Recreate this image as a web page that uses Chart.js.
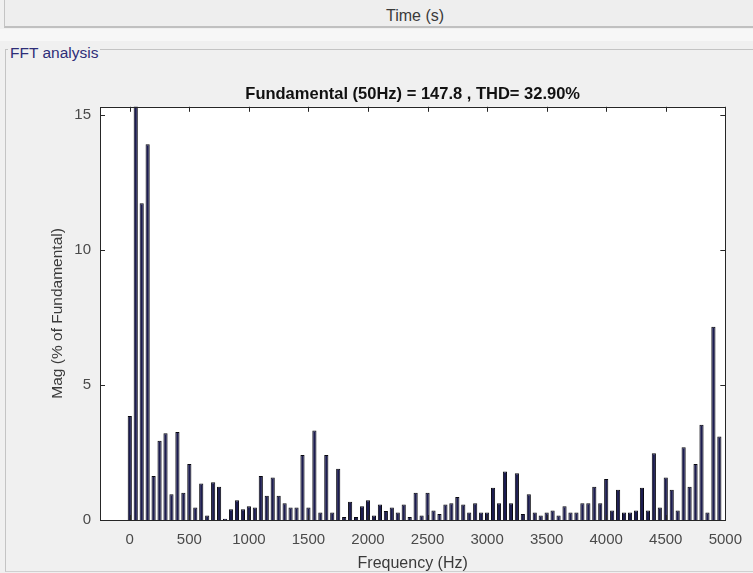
<!DOCTYPE html>
<html>
<head>
<meta charset="utf-8">
<script src="https://cdn.jsdelivr.net/npm/chart.js@4.4.1/dist/chart.umd.min.js"></script>
<style>
    html, body {
        margin: 0;
        padding: 0;
        width: 753px;
        height: 573px;
        overflow: hidden;
        background: #f0f0f0;
        font-family: "Liberation Sans", Arial, sans-serif;
    }
    .time-strip {
        position: absolute;
        left: 4px;
        top: 0;
        width: 749px;
        height: 26px;
        background: #eeeeee;
        border-left: 1px solid #c4c4c4;
        border-bottom: 2px solid #c0c0c0;
    }
    .time-label {
        position: absolute;
        left: 415px;
        top: 16px;
        transform: translate(-50%, -50%);
        font-size: 16px;
        color: #3a3a3a;
        white-space: nowrap;
    }
    .light-band {
        position: absolute;
        left: 0;
        top: 29px;
        width: 753px;
        height: 12px;
        background: #f7f7f7;
    }
    .group-box {
        position: absolute;
        left: 5px;
        top: 49px;
        width: 748px;
        height: 521px;
        border-top: 1px solid #c4c4c4;
        border-left: 1px solid #c4c4c4;
        border-bottom: 1px solid #d0d0d0;
    }
    .group-title {
        position: absolute;
        left: 8px;
        top: 53px;
        transform: translateY(-50%);
        padding: 0 2px;
        background: #f0f0f0;
        font-size: 15.5px;
        color: #2e2e78;
        white-space: nowrap;
    }
    #chartWrap {
        position: absolute;
        left: 0;
        top: 0;
        width: 753px;
        height: 573px;
    }
</style>
</head>
<body>
<div class="time-strip"></div>
<div class="time-label">Time (s)</div>
<div class="light-band"></div>
<div class="group-box"></div>
<div class="group-title">FFT analysis</div>
<div id="chartWrap"><canvas id="fftChart" width="753" height="573"></canvas></div>

<script>
// harmonic frequencies (Hz), one bar every 50 Hz
const frequencies = [
    0, 50, 100, 150, 200, 250, 300, 350, 400, 450,
    500, 550, 600, 650, 700, 750, 800, 850, 900, 950,
    1000, 1050, 1100, 1150, 1200, 1250, 1300, 1350, 1400, 1450,
    1500, 1550, 1600, 1650, 1700, 1750, 1800, 1850, 1900, 1950,
    2000, 2050, 2100, 2150, 2200, 2250, 2300, 2350, 2400, 2450,
    2500, 2550, 2600, 2650, 2700, 2750, 2800, 2850, 2900, 2950,
    3000, 3050, 3100, 3150, 3200, 3250, 3300, 3350, 3400, 3450,
    3500, 3550, 3600, 3650, 3700, 3750, 3800, 3850, 3900, 3950,
    4000, 4050, 4100, 4150, 4200, 4250, 4300, 4350, 4400, 4450,
    4500, 4550, 4600, 4650, 4700, 4750, 4800, 4850, 4900, 4950
];

// magnitude in % of fundamental (the 50 Hz bar is the fundamental itself)
const magnitudes = [
    3.85, 100, 11.73, 13.91, 1.63, 2.93, 3.21, 0.95, 3.26, 1.01,
    2.07, 0.46, 1.35, 0.17, 1.40, 1.23, 0.05, 0.40, 0.73, 0.40,
    0.51, 0.46, 1.63, 0.90, 1.57, 0.90, 0.62, 0.46, 0.46, 2.41,
    0.46, 3.31, 0.28, 2.41, 0.28, 1.90, 0.11, 0.68, 0.11, 0.51,
    0.73, 0.17, 0.57, 0.33, 0.46, 0.28, 0.57, 0.11, 1.01, 0.17,
    1.01, 0.35, 0.22, 0.57, 0.62, 0.85, 0.57, 0.28, 0.62, 0.28,
    0.28, 1.19, 0.62, 1.80, 0.62, 1.73, 0.22, 0.95, 0.28, 0.17,
    0.28, 0.35, 0.17, 0.51, 0.28, 0.28, 0.62, 0.62, 1.23, 0.62,
    1.52, 0.35, 1.12, 0.28, 0.28, 0.35, 1.19, 0.35, 2.47, 0.46,
    1.57, 1.12, 0.35, 2.69, 1.23, 2.07, 3.53, 0.28, 7.16, 3.09
];

const xTickValues = [0, 500, 1000, 1500, 2000, 2500, 3000, 3500, 4000, 4500, 5000];
const yTickValues = [0, 5, 10, 15];

const chartTitle = "Fundamental (50Hz) = 147.8 , THD= 32.90%";
const xAxisTitle = "Frequency (Hz)";
const yAxisTitle = "Mag (% of Fundamental)";

const FONT = "'Liberation Sans', Arial, sans-serif";

// MATLAB style axes: white plot box, full frame, ticks pointing inward
const matlabAxes = {
    id: "matlabAxes",
    beforeDraw(chart) {
        const { ctx, chartArea } = chart;
        ctx.save();
        ctx.fillStyle = "#ffffff";
        ctx.fillRect(chartArea.left, chartArea.top, chartArea.width, chartArea.height);
        ctx.restore();
    },
    afterDraw(chart) {
        const { ctx, chartArea, scales } = chart;
        const { left, right, top, bottom } = chartArea;
        const tickLen = 5;

        ctx.save();
        ctx.strokeStyle = "#262626";
        ctx.lineWidth = 1;

        ctx.beginPath();
        xTickValues.forEach(v => {
            const px = Math.round(scales.x.getPixelForValue(v)) + 0.5;
            ctx.moveTo(px, bottom);
            ctx.lineTo(px, bottom - tickLen);
            ctx.moveTo(px, top);
            ctx.lineTo(px, top + tickLen);
        });
        yTickValues.forEach(v => {
            const py = Math.round(scales.y.getPixelForValue(v)) + 0.5;
            ctx.moveTo(left, py);
            ctx.lineTo(left + tickLen, py);
            ctx.moveTo(right, py);
            ctx.lineTo(right - tickLen, py);
        });
        ctx.stroke();

        ctx.strokeRect(Math.round(left) + 0.5, Math.round(top) + 0.5,
            Math.round(right - left), Math.round(bottom - top));
        ctx.restore();
    }
};

const canvas = document.getElementById("fftChart");

new Chart(canvas, {
    type: "bar",
    data: {
        datasets: [{
            label: "Mag",
            data: frequencies.map((f, i) => ({ x: f, y: magnitudes[i] })),
            backgroundColor: "#1c1c50",
            borderColor: "#08080f",
            borderWidth: 1,
            barPercentage: 0.7,
            categoryPercentage: 1,
            clip: 0
        }]
    },
    options: {
        responsive: false,
        animation: false,
        events: [],
        layout: {
            padding: { left: 40, right: 24, top: 85, bottom: 0 }
        },
        plugins: {
            legend: { display: false },
            tooltip: { enabled: false },
            title: {
                display: true,
                text: chartTitle,
                fullSize: false,
                color: "#111111",
                font: { family: FONT, size: 16.5, weight: "bold", lineHeight: 1.2 },
                padding: { top: 0, bottom: 2 }
            }
        },
        scales: {
            x: {
                type: "linear",
                min: -250,
                max: 5000,
                offset: false,
                grid: { display: false, drawTicks: false, offset: false },
                border: { display: false },
                ticks: {
                    color: "#4a4a4a",
                    padding: 11,
                    maxRotation: 0,
                    autoSkip: false,
                    font: { family: FONT, size: 15 },
                    callback: value => String(value)
                },
                afterBuildTicks: scale => {
                    scale.ticks = xTickValues.map(v => ({ value: v }));
                },
                afterFit: scale => {
                    scale.height = 53;
                },
                title: {
                    display: true,
                    text: xAxisTitle,
                    color: "#3a3a3a",
                    font: { family: FONT, size: 16 },
                    padding: { top: 0, bottom: 0 }
                }
            },
            y: {
                min: 0,
                max: 15.3,
                grid: { display: false, drawTicks: false },
                border: { display: false },
                ticks: {
                    color: "#4a4a4a",
                    padding: 9,
                    font: { family: FONT, size: 15 },
                    callback: value => String(value)
                },
                afterBuildTicks: scale => {
                    scale.ticks = yTickValues.map(v => ({ value: v }));
                },
                afterFit: scale => {
                    scale.width = 60;
                },
                title: {
                    display: true,
                    text: yAxisTitle,
                    color: "#3a3a3a",
                    font: { family: FONT, size: 15.5 },
                    padding: { top: 8, bottom: 0 }
                }
            }
        }
    },
    plugins: [matlabAxes]
});
</script>
</body>
</html>
